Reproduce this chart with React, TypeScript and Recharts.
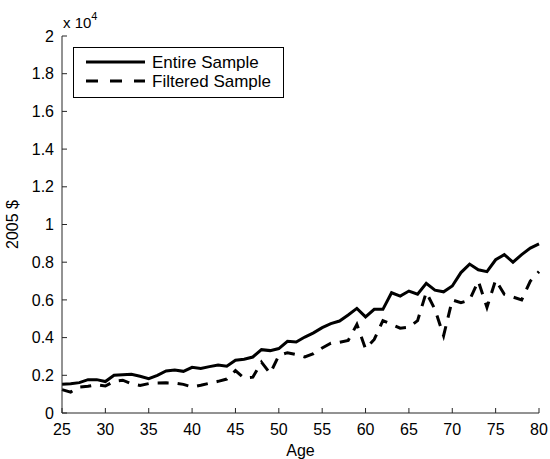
import React from 'react';
import { LineChart, Line, XAxis, YAxis, Legend, Label } from 'recharts';

const AGES = [
  25, 26, 27, 28, 29, 30, 31, 32, 33, 34, 35, 36, 37, 38, 39, 40, 41, 42, 43, 44,
  45, 46, 47, 48, 49, 50, 51, 52, 53, 54, 55, 56, 57, 58, 59, 60, 61, 62, 63, 64,
  65, 66, 67, 68, 69, 70, 71, 72, 73, 74, 75, 76, 77, 78, 79, 80,
];

// 2005 dollars
const ENTIRE = [
  1520, 1550, 1610, 1770, 1770, 1670, 2000, 2030, 2050, 1950, 1820, 2000, 2230, 2280, 2210, 2420, 2360, 2460, 2550, 2480,
  2800, 2850, 2970, 3360, 3310, 3420, 3800, 3770, 4030, 4250, 4530, 4740, 4880, 5200, 5550, 5100, 5500, 5500, 6380, 6200,
  6470, 6300, 6880, 6520, 6430, 6740, 7450, 7900, 7600, 7500, 8130, 8400, 8000, 8400, 8750, 8970,
];

const FILTERED = [
  1240, 1110, 1380, 1420, 1500, 1430, 1680, 1740, 1550, 1460, 1560, 1590, 1600, 1590, 1520, 1380, 1470, 1580, 1680, 1800,
  2250, 1850, 1900, 2700, 2100, 3050, 3200, 3100, 2970, 3150, 3450, 3700, 3750, 3850, 4700, 3400, 3900, 4900, 4700, 4500,
  4550, 4900, 6400, 5500, 4100, 6000, 5850, 6000, 7000, 5600, 7050, 6300, 6150, 6000, 7000, 7500,
];

const X_TICKS = [25, 30, 35, 40, 45, 50, 55, 60, 65, 70, 75, 80];
const Y_TICKS = [0, 2000, 4000, 6000, 8000, 10000, 12000, 14000, 16000, 18000, 20000];

const SERIES = [
  { key: 'entire', name: 'Entire Sample', dash: undefined as string | undefined },
  { key: 'filtered', name: 'Filtered Sample', dash: '11 9' },
];

const FONT = '"Liberation Sans", Arial, Helvetica, sans-serif';
const AXIS = '#262626';

const data = AGES.map((age, i) => ({ age, entire: ENTIRE[i], filtered: FILTERED[i] }));

function LegendBox() {
  return (
    <svg width={211} height={51} style={{ display: 'block' }}>
      <rect x={0.5} y={0.5} width={210} height={50} fill="#fff" stroke="#000" strokeWidth={1} />
      {SERIES.map((s, i) => (
        <g key={s.key}>
          <line
            x1={13}
            x2={72}
            y1={15 + i * 19}
            y2={15 + i * 19}
            stroke="#000"
            strokeWidth={3}
            strokeDasharray={s.dash ? '12 12' : undefined}
          />
          <text x={79} y={21 + i * 19} fontSize={17} fontFamily={FONT} fill="#000">
            {s.name}
          </text>
        </g>
      ))}
    </svg>
  );
}

export default function App() {
  return (
    <div style={{ position: 'absolute', left: 0, top: 0, background: '#fff' }}>
      <LineChart width={550} height={459} data={data} margin={{ top: 36, right: 11, bottom: 16, left: 0 }}>
        <XAxis
          dataKey="age"
          type="number"
          domain={[25, 80]}
          ticks={X_TICKS}
          height={30}
          stroke={AXIS}
          tickSize={-5}
          tickMargin={16}
          tick={{ fill: '#000', fontSize: 16, fontFamily: FONT }}
        >
          <Label value="Age" position="bottom" offset={2} fill="#000" fontSize={16} fontFamily={FONT} />
        </XAxis>
        <YAxis
          type="number"
          domain={[0, 20000]}
          ticks={Y_TICKS}
          width={62}
          stroke={AXIS}
          tickSize={-5}
          tickMargin={13}
          tickFormatter={(v: number) => String(v / 10000)}
          tick={{ fill: '#000', fontSize: 16, fontFamily: FONT }}
        >
          <Label
            content={({ viewBox }: any) => (
              <text x={viewBox.x + viewBox.width + 1} y={viewBox.y - 8} fontSize={15} fontFamily={FONT} fill="#000">
                x 10
                <tspan dy={-8} fontSize={11}>4</tspan>
              </text>
            )}
          />
          <Label
            content={({ viewBox }: any) => {
              const cy = viewBox.y + viewBox.height / 2;
              return (
                <text
                  x={18}
                  y={cy}
                  transform={`rotate(-90, 18, ${cy})`}
                  textAnchor="middle"
                  fontSize={16}
                  fontFamily={FONT}
                  fill="#000"
                >
                  2005 $
                </text>
              );
            }}
          />
        </YAxis>
        <Legend
          layout="vertical"
          align="center"
          verticalAlign="middle"
          content={() => <LegendBox />}
          wrapperStyle={{ position: 'absolute', left: 73, top: 47, width: 211, height: 51 }}
        />
        {SERIES.map((s) => (
          <Line
            key={s.key}
            dataKey={s.key}
            name={s.name}
            type="linear"
            stroke="#000"
            strokeWidth={3}
            strokeDasharray={s.dash}
            dot={false}
            activeDot={false}
            isAnimationActive={false}
          />
        ))}
      </LineChart>
    </div>
  );
}
